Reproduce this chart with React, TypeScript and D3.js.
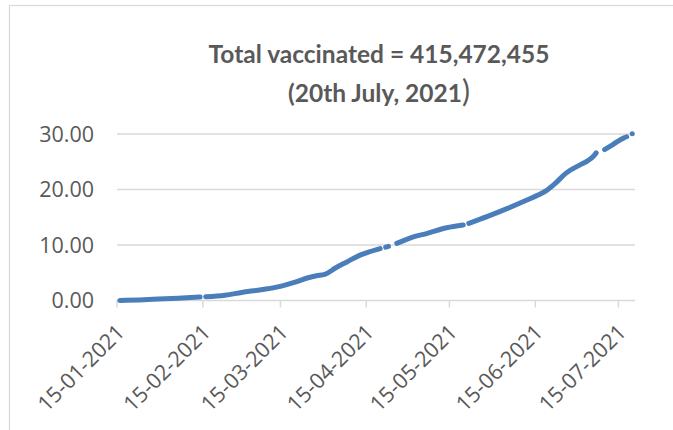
import React from "react";
import * as d3 from "d3";

const titleLine1 = "Total vaccinated = 415,472,455";
const titleLine2 = "(20th July, 2021";
const titleClose = ")";

const dates = [
  "2021-01-16", "2021-01-23", "2021-01-30", "2021-02-06", "2021-02-14", "2021-02-15",
  "2021-02-16", "2021-02-23", "2021-03-01", "2021-03-08", "2021-03-15", "2021-03-20",
  "2021-03-25", "2021-03-28", "2021-03-31", "2021-04-04", "2021-04-08", "2021-04-12",
  "2021-04-16", "2021-04-20", "2021-04-21", "2021-04-22", "2021-04-23", "2021-04-24",
  "2021-04-25", "2021-04-26", "2021-05-01", "2021-05-07", "2021-05-14", "2021-05-20",
  "2021-05-21", "2021-05-22", "2021-05-29", "2021-06-05", "2021-06-12", "2021-06-16",
  "2021-06-19", "2021-06-22", "2021-06-26", "2021-07-01", "2021-07-04", "2021-07-06",
  "2021-07-07", "2021-07-08", "2021-07-09", "2021-07-10", "2021-07-13", "2021-07-17",
  "2021-07-18", "2021-07-19", "2021-07-20",
];
const values: (number | null)[] = [
  0.0, 0.1, 0.26, 0.42, 0.62, null,
  0.68, 0.95, 1.45, 1.95, 2.55, 3.25,
  4.1, 4.45, 4.7, 5.9, 6.95, 8.0,
  8.75, 9.35, null, 9.6, 9.75, null,
  null, 10.3, 11.3, 12.1, 13.1, 13.6,
  null, 13.9, 15.2, 16.6, 18.1, 19.0,
  19.8, 21.0, 22.9, 24.4, 25.2, 26.0,
  26.6, null, null, 27.2, 28.1, 29.3,
  29.5, null, 30.05,
];

const yTicks = [0, 10, 20, 30];
const xTickDates = [
  "2021-01-15", "2021-02-15", "2021-03-15", "2021-04-15",
  "2021-05-15", "2021-06-15", "2021-07-15",
];
const xDomain = ["2021-01-15", "2021-07-21"];

export default function App() {
  const W = 673;
  const H = 430;
  const parse = d3.timeParse("%Y-%m-%d");
  const fmt = d3.timeFormat("%d-%m-%Y");
  const x = d3
    .scaleTime()
    .domain(xDomain.map((d) => parse(d) as Date))
    .range([117, 635]);
  const y = d3.scaleLinear().domain([0, 30]).range([300.5, 134]);
  const data = dates.map((d, i) => ({ date: parse(d) as Date, v: values[i] }));
  const line = d3
    .line<{ date: Date; v: number | null }>()
    .defined((d) => d.v != null)
    .x((d) => x(d.date))
    .y((d) => y(d.v as number))
    .curve(d3.curveMonotoneX);

  const grey = "#d9d9d9";
  const textCol = "#595959";
  const titleFont = "Lato, 'Open Sans', sans-serif";
  const axisFont = "'Open Sans', Lato, sans-serif";
  const [x0, x1] = x.range();

  return (
    <svg
      width={W}
      height={H}
      style={{ position: "absolute", left: 0, top: 0, background: "#fff" }}
    >
      <rect x={0} y={0} width={W} height={H} fill="#fff" />
      <rect x={9.5} y={5.5} width={800} height={600} fill="none" stroke={grey} strokeWidth={1.2} />
      <text
        x={379}
        y={63}
        textAnchor="middle"
        fontFamily={titleFont}
        fontWeight="bold"
        fontSize={24.5}
        fill={textCol}
      >
        {titleLine1}
      </text>
      <text
        x={379}
        y={102}
        textAnchor="middle"
        fontFamily={titleFont}
        fontWeight="bold"
        fontSize={24.5}
        fill={textCol}
      >
        {titleLine2}
        <tspan fontWeight="normal" fontSize={30}>{titleClose}</tspan>
      </text>
      {yTicks.map((t) => (
        <g key={t}>
          <line x1={x0} x2={x1} y1={y(t)} y2={y(t)} stroke={grey} strokeWidth={1.5} />
          <text
            x={94}
            y={y(t)}
            dy="0.36em"
            textAnchor="end"
            fontFamily={axisFont}
            fontSize={21.5}
            fill={textCol}
          >
            {d3.format(".2f")(t)}
          </text>
        </g>
      ))}
      {xTickDates.map((s) => {
        const d = parse(s) as Date;
        const tx = x(d);
        return (
          <g key={s}>
            <line x1={tx} x2={tx} y1={y(0)} y2={y(0) + 7} stroke={grey} strokeWidth={1.5} />
            <text
              transform={`translate(${tx + 9},${y(0) + 33}) rotate(-45)`}
              textAnchor="end"
              fontFamily={axisFont}
              fontSize={21.5}
              fill={textCol}
            >
              {fmt(d)}
            </text>
          </g>
        );
      })}
      <path
        d={line(data) || ""}
        fill="none"
        stroke="#4a7ebb"
        strokeWidth={5}
        strokeLinecap="round"
        strokeLinejoin="round"
      />
    </svg>
  );
}
